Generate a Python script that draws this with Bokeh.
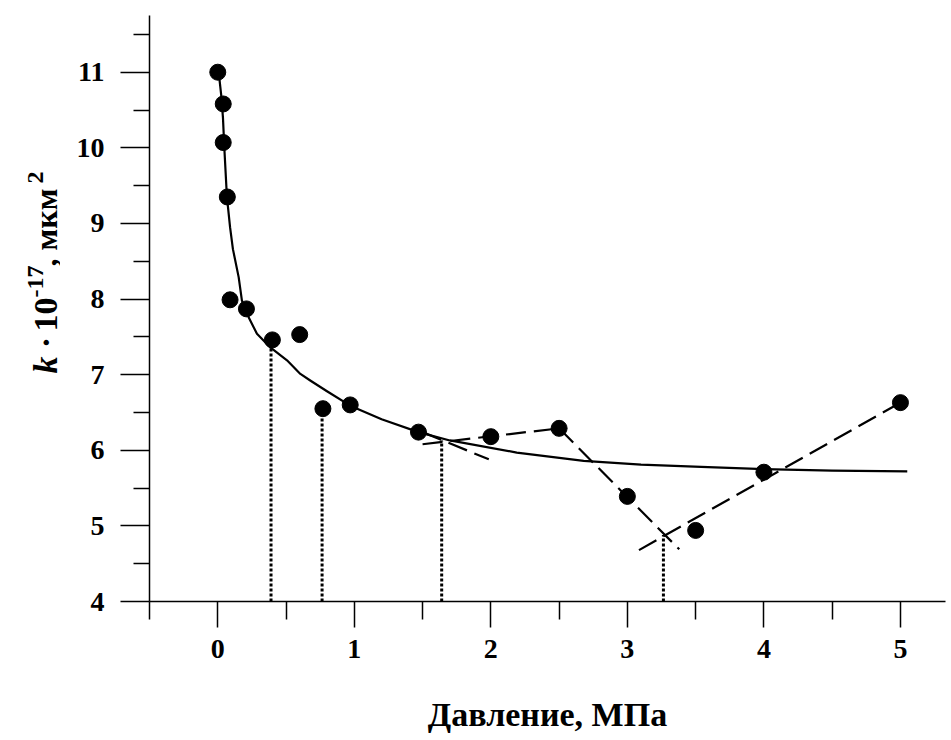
import math
from bokeh.plotting import figure
from bokeh.layouts import row
from bokeh.models import FixedTicker, Range1d
from bokeh.core.properties import value
from bokeh.embed import file_html
from bokeh.resources import INLINE

# measured points
pressure = [0.0, 0.04, 0.04, 0.07, 0.09, 0.21, 0.40, 0.60, 0.77, 0.97, 1.47, 2.00, 2.50, 3.00, 3.50, 4.00, 5.00]
perm = [11.00, 10.58, 10.07, 9.35, 7.99, 7.87, 7.46, 7.53, 6.55, 6.60, 6.24, 6.18, 6.29, 5.39, 4.94, 5.71, 6.63]

# fitted curve
curve_x = [0.006, 0.025, 0.038, 0.048, 0.067, 0.090, 0.111, 0.153, 0.177, 0.226, 0.287, 0.385, 0.507, 0.605,
           0.68, 0.80, 0.97, 1.20, 1.47, 1.70, 2.19, 2.68, 3.10, 3.54, 4.00, 4.50, 5.05]
curve_y = [11.01, 10.70, 10.40, 10.00, 9.35, 8.95, 8.66, 8.29, 7.98, 7.76, 7.54, 7.36, 7.19, 7.01,
           6.92, 6.78, 6.59, 6.41, 6.24, 6.13, 5.97, 5.86, 5.81, 5.78, 5.75, 5.73, 5.72]

# dashed trend segments
trend_a_x = [1.50, 2.50]
trend_a_y = [6.08, 6.29]
trend_b_x = [1.50, 1.985]
trend_b_y = [6.24, 5.88]
trend_c_x = [2.50, 3.38]
trend_c_y = [6.29, 4.69]
trend_d_x = [3.085, 5.00]
trend_d_y = [4.68, 6.63]

# dotted drop lines
drop_x = [0.39, 0.764, 1.64, 3.264]
drop_top = [7.36, 6.43, 6.13, 4.88]
drop_bottom = [4.0, 4.0, 4.0, 4.0]

x_major = [0, 1, 2, 3, 4, 5]
x_minor = [-0.5, 0.5, 1.5, 2.5, 3.5, 4.5]
y_major = [4, 5, 6, 7, 8, 9, 10, 11]
y_minor = [4.5, 5.5, 6.5, 7.5, 8.5, 9.5, 10.5, 11.5]

# y-axis title pieces
ytitle_text = ["k", "·", "10", "-17", ", мкм", "2"]

FONT = "Liberation Serif"
H = 735
TW = 60  # width of the strip holding the y title
FT, FB = 15, 601  # frame top / bottom in pixels

p = figure(width=950 - TW, height=H, output_backend="svg", toolbar_location=None,
           x_range=Range1d(-0.5, 5.33), y_range=Range1d(4.0, 11.75),
           min_border_left=149 - TW, min_border_top=FT, min_border_right=5, min_border_bottom=H - FB)
p.outline_line_color = None
p.xgrid.visible = False
p.ygrid.visible = False
p.background_fill_color = "white"
p.border_fill_color = "white"

for ax in (p.xaxis[0], p.yaxis[0]):
    ax.axis_line_width = 1.5
    ax.axis_line_color = "black"
    ax.major_tick_line_width = 1.5
    ax.minor_tick_line_width = 1.5
    ax.major_tick_line_color = "black"
    ax.minor_tick_line_color = "black"
    ax.major_tick_in = 0
    ax.minor_tick_in = 0
    ax.major_label_text_font = FONT
    ax.major_label_text_font_style = "bold"
    ax.major_label_text_font_size = "28px"
    ax.major_label_text_color = "black"

p.xaxis.ticker = FixedTicker(ticks=x_major, minor_ticks=x_minor)
p.yaxis.ticker = FixedTicker(ticks=y_major, minor_ticks=y_minor)
p.xaxis.major_tick_out = 26
p.xaxis.minor_tick_out = 18
p.yaxis.major_tick_out = 29
p.yaxis.minor_tick_out = 16
p.xaxis.major_label_standoff = 12
p.yaxis.major_label_standoff = 16

p.xaxis.axis_label = "Давление, МПа"
p.xaxis.axis_label_text_font = FONT
p.xaxis.axis_label_text_font_style = "bold"
p.xaxis.axis_label_text_font_size = "34px"
p.xaxis.axis_label_text_color = "black"
p.xaxis.axis_label_standoff = 35

# curves
p.line(curve_x, curve_y, line_color="black", line_width=2.2, line_join="round")
for tx, ty in ((trend_a_x, trend_a_y), (trend_b_x, trend_b_y), (trend_c_x, trend_c_y), (trend_d_x, trend_d_y)):
    p.line(tx, ty, line_color="black", line_width=2.2, line_dash="20 8")
p.segment(x0=drop_x, y0=drop_bottom, x1=drop_x, y1=drop_top, line_color="black",
          line_width=3, line_dash="3 2")
p.scatter(pressure, perm, size=16, fill_color="black", line_color="black")

# strip with the rotated y-axis title (pixel-like coordinates, y downwards)
t = figure(width=TW, height=H, output_backend="svg", toolbar_location=None,
           x_range=Range1d(0, TW), y_range=Range1d(FB, FT),
           x_axis_type=None, y_axis_type=None,
           min_border_left=0, min_border_right=0, min_border_top=FT, min_border_bottom=H - FB)
t.outline_line_color = None
t.xgrid.visible = False
t.ygrid.visible = False
t.background_fill_color = "white"
t.border_fill_color = "white"

ang = math.pi / 2
XB = 45   # main baseline
XS = 35   # superscript baseline
pos = [(XB, 373, "34px", "bold italic", "left"),
       (XB, 342, "34px", "bold", "center"),
       (XB, 331, "34px", "bold", "left"),
       (XS, 297, "24px", "bold", "left"),
       (XB, 266, "32px", "bold", "left"),
       (XS, 183, "24px", "bold", "left")]
for txt, (xx, yy, fs, st, al) in zip(ytitle_text, pos):
    t.text(x=[xx], y=[yy], text=[txt], angle=ang, text_font=value(FONT), text_font_style=st,
           text_font_size=fs, text_align=al, text_baseline="alphabetic", text_color="black")

layout = row(t, p)
open("out.html", "w").write(file_html(layout, INLINE))
